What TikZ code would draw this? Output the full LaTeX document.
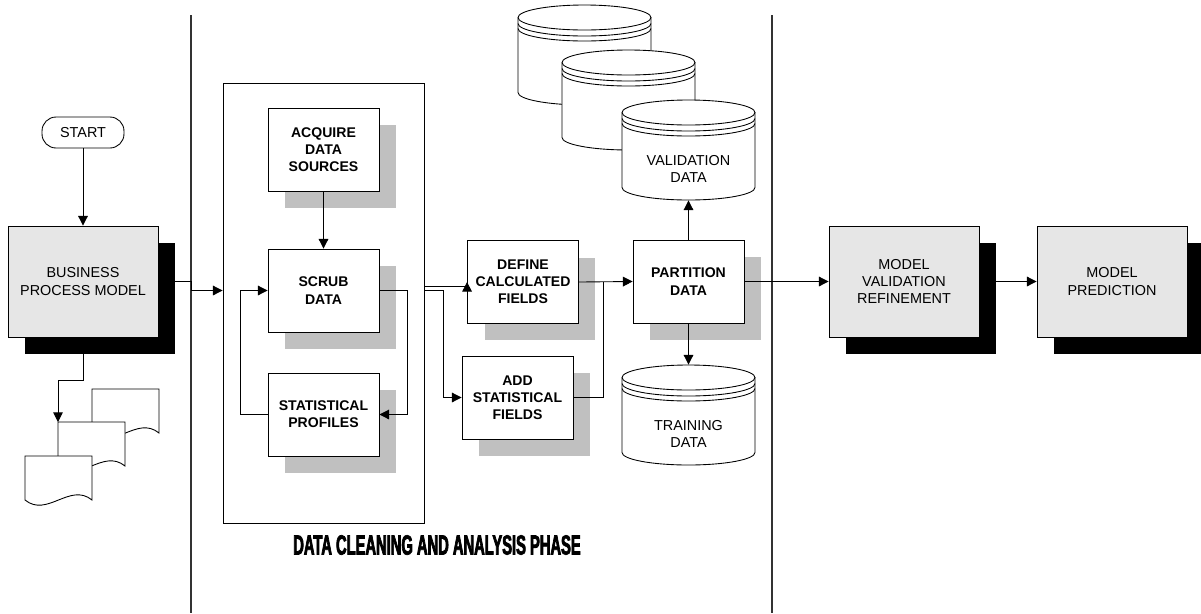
\documentclass[tikz,border=0pt]{standalone}
\usepackage{fontspec}
\setmainfont{Liberation Sans}
\newfontfamily\phasefont[FakeStretch=0.53,FakeBold=2.5]{Liberation Sans}
\usetikzlibrary{arrows.meta}
\usetikzlibrary{shadows}
\usetikzlibrary{calc}
\definecolor{boxgray}{RGB}{230,230,230}
\definecolor{shadegray}{RGB}{192,192,192}
\tikzset{arr/.style={-{Triangle[length=5.5pt,width=5.5pt]}}}
\tikzset{procbox/.style={rectangle, draw, fill=boxgray,
   minimum width=3cm, minimum height=2.22cm, inner sep=0pt,
   align=center, font=\fontsize{8.2}{9.8}\selectfont,
   drop shadow={shadow xshift=0.34cm, shadow yshift=-0.34cm, fill=black, opacity=1}
}}
\tikzset{stepbox/.style={rectangle, draw, fill=white,
   minimum width=2.22cm, minimum height=1.66cm, inner sep=0pt,
   align=center, font=\fontsize{8}{9.8}\selectfont\bfseries,
   drop shadow={shadow xshift=0.34cm, shadow yshift=-0.34cm, fill=shadegray, opacity=1}
}}
\tikzset{termbox/.style={rectangle, rounded corners=8pt, draw,
   minimum width=1.64cm, minimum height=0.62cm, inner sep=0pt,
   font=\fontsize{8.2}{9.8}\selectfont}}
\tikzset{dbframe/.style={minimum width=2.66cm, minimum height=2cm, inner sep=0pt}}
\tikzset{dblabel/.style={align=center, yshift=-0.38cm, font=\fontsize{8.2}{9.8}\selectfont}}
\tikzset{divline/.style={draw=black!80, line width=0.6pt}}
\tikzset{dbcyl/.pic={
   \fill[white] (-66.5,-37.5) -- (-66.5,37.5)
      arc[start angle=180, end angle=0, x radius=66.5, y radius=12.5] -- (66.5,-37.5)
      arc[start angle=0, end angle=-180, x radius=66.5, y radius=12.5] -- cycle;
   \draw (0,-37.5) ellipse [x radius=66.5, y radius=12.5];
   \draw (-66.5,-37.5) -- (-66.5,37.5)
      arc[start angle=180, end angle=0, x radius=66.5, y radius=12.5] -- (66.5,-37.5);
   \draw (-66.5,-31.5) arc[start angle=180, end angle=0, x radius=66.5, y radius=12.5];
   \draw (-66.5,-26.5) arc[start angle=180, end angle=0, x radius=66.5, y radius=12.5];
}}
\tikzset{docpage/.pic={
   \draw[fill=white] (0,0) -- (67,0) -- (67,44) .. controls (45,26) and (22,62) .. (0,44) -- cycle;
}}

\begin{document}
\begin{tikzpicture}[x=0.02cm, y=-0.02cm, line width=0.5pt]

    \useasboundingbox (0,0) rectangle (1201,613);

    \coordinate (divL) at (191,15);
    \coordinate (divR) at (772,15);
    \draw[divline] (divL) -- (divL |- 0,613);
    \draw[divline] (divR) -- (divR |- 0,613);

    \node[termbox] (start) at (83,132.5) {START};
    \node[procbox] (bpm) at (83,281.5) {BUSINESS\\PROCESS MODEL};

    \pic at (92,389) {docpage};
    \pic at (58,422) {docpage};
    \pic at (25,456) {docpage};
    \coordinate (doc) at (58,422);

    \node[draw, minimum width=4.02cm, minimum height=8.8cm] (bigbox) at (323.5,303) {};
    \node[stepbox] (acquire) at (323.5,149.5) {ACQUIRE\\DATA\\SOURCES};
    \node[stepbox] (scrub) at (323.5,290.5) {SCRUB\\DATA};
    \node[stepbox] (stat) at (323.5,414.5) {STATISTICAL\\PROFILES};

    \node[stepbox] (define) at (523,282) {DEFINE\\CALCULATED\\FIELDS};
    \node[stepbox] (add) at (517.5,397.5) {ADD\\STATISTICAL\\FIELDS};
    \node[stepbox] (partition) at (688.5,281.5) {PARTITION\\DATA};

    \pic at (584.5,55) {dbcyl};
    \pic at (628.5,100) {dbcyl};
    \pic at (688.5,150) {dbcyl};
    \node[dbframe, label={[dblabel]center:VALIDATION\\DATA}] (valid) at (688.5,150) {};
    \pic at (688.5,415) {dbcyl};
    \node[dbframe, label={[dblabel]center:TRAINING\\DATA}] (train) at (688.5,415) {};

    \node[procbox] (mval) at (904,281.5) {MODEL\\VALIDATION\\REFINEMENT};
    \node[procbox] (mpred) at (1112,281.5) {MODEL\\PREDICTION};

    \node[font=\phasefont\bfseries\fontsize{15.8}{18}\selectfont] (phase) at (437,545)
        {DATA CLEANING AND ANALYSIS PHASE};

    \draw[arr] (start) -- (bpm);
    \draw[arr] (bpm.south) -- ++(0,43) -| (doc);
    \draw[arr] (bpm.east) -| (divL |- scrub) -- (bigbox.west |- scrub);
    \draw[arr] (acquire) -- (scrub);
    \draw[arr] (stat.west) -- ++(-27,0) |- (scrub.west);
    \draw[arr] (scrub.east) -- ++(28,0) |- (stat.east);
    \draw[arr] ($(bigbox.east |- define.west)+(0,4)$) -- ($(define.west)+(0,4)$) -- (define.west);
    \draw[arr] (bigbox.east |- scrub) -- ++(19,0) |- (add.west);
    \coordinate (join) at ($(define.east)!0.45!(partition.west)$);
    \draw[arr] (define.east) -- (partition.west);
    \draw (add.east) -| (join);
    \draw[arr] (partition) -- (valid.south);
    \draw[arr] (partition) -- (train.north);
    \draw[arr] (partition.east) -- (mval.west);
    \draw[arr] (mval.east) -- (mpred.west);

\end{tikzpicture}
\end{document}
